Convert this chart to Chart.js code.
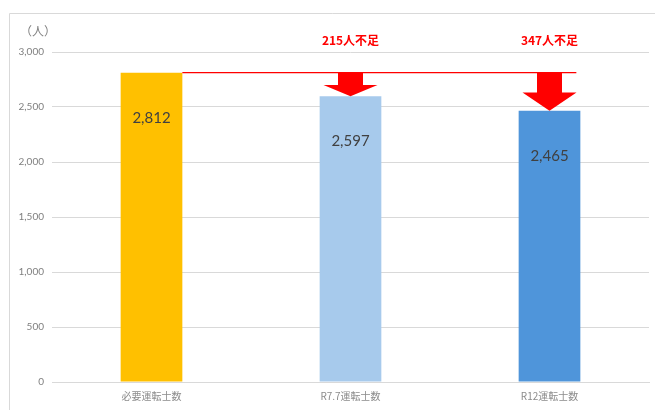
<!DOCTYPE html>
<html><head><meta charset="utf-8">
<script src="https://cdn.jsdelivr.net/npm/chart.js@4"></script>
<style>html,body{margin:0;padding:0;background:#fff;}#wrap{width:655px;height:410px;position:relative;}</style>
</head><body><div id="wrap"><canvas id="c" width="655" height="410"></canvas></div>
<script>
const categories = ['必要運転士数', 'R7.7運転士数', 'R12運転士数'];
const driverCounts = [2812, 2597, 2465];
const barColors = ['#FFC000', '#A7CAEC', '#4F95DA'];
const shortageLabels = ['215人不足', '347人不足'];
const yUnit = '（人）';
const jpFont = '"Noto Sans CJK JP", "Noto Sans", sans-serif';

const overlay = {
  id: 'overlay',
  beforeDraw(chart) {
    const ctx = chart.ctx;
    ctx.save();
    ctx.strokeStyle = '#D9D9D9';
    ctx.lineWidth = 1;
    ctx.beginPath();
    ctx.moveTo(9.5, 410); ctx.lineTo(9.5, 13.5); ctx.lineTo(655, 13.5);
    ctx.stroke();
    ctx.restore();
  },
  afterDatasetsDraw(chart) {
    const ctx = chart.ctx;
    const ys = chart.scales.y;
    const meta = chart.getDatasetMeta(0);
    ctx.save();
    // data labels
    ctx.fillStyle = '#404040';
    ctx.font = '15px Lato, "Noto Sans", sans-serif';
    ctx.textAlign = 'center';
    ctx.textBaseline = 'middle';
    meta.data.forEach((bar, i) => {
      ctx.fillText(driverCounts[i].toLocaleString('en-US'), bar.x, bar.y + 45);
    });
    // red reference line
    const lineY = ys.getPixelForValue(driverCounts[0]);
    const b0 = meta.data[0], bl = meta.data[meta.data.length - 1];
    ctx.strokeStyle = '#FF0000';
    ctx.lineWidth = 1.2;
    ctx.beginPath();
    ctx.moveTo(b0.x + b0.width / 2, lineY);
    ctx.lineTo(bl.x + bl.width / 2 - 4, lineY);
    ctx.stroke();
    // arrows and shortage labels
    for (let i = 1; i < meta.data.length; i++) {
      const bar = meta.data[i];
      const tip = bar.y;
      const total = tip - lineY;
      const head = total * 0.48;
      const sw = 12.5, hw = 27;
      ctx.fillStyle = '#FF0000';
      ctx.beginPath();
      ctx.moveTo(bar.x - sw, lineY);
      ctx.lineTo(bar.x + sw, lineY);
      ctx.lineTo(bar.x + sw, tip - head);
      ctx.lineTo(bar.x + hw, tip - head);
      ctx.lineTo(bar.x, tip);
      ctx.lineTo(bar.x - hw, tip - head);
      ctx.lineTo(bar.x - sw, tip - head);
      ctx.closePath();
      ctx.fill();
      ctx.font = 'bold 12px ' + jpFont;
      ctx.textAlign = 'center';
      ctx.textBaseline = 'middle';
      ctx.fillText(shortageLabels[i - 1], bar.x, 40);
    }
    // unit label
    ctx.fillStyle = '#7F7F7F';
    ctx.font = '12px ' + jpFont;
    ctx.textAlign = 'left';
    ctx.fillText(yUnit, 20, 31);
    ctx.restore();
  }
};

new Chart(document.getElementById('c'), {
  type: 'bar',
  data: {
    labels: categories,
    datasets: [{ data: driverCounts, backgroundColor: barColors, barPercentage: 0.62, categoryPercentage: 0.5 }]
  },
  options: {
    responsive: false,
    animation: false,
    events: [],
    layout: { padding: { top: 52, right: 6, left: 0, bottom: 0 } },
    plugins: { legend: { display: false }, tooltip: { enabled: false } },
    scales: {
      y: {
        min: 0, max: 3000,
        ticks: { stepSize: 500, color: '#7F7F7F', font: { size: 10, family: 'Lato, "Noto Sans", sans-serif' }, padding: 8,
          callback: v => v.toLocaleString('en-US') },
        grid: { color: '#D9D9D9', drawTicks: false, lineWidth: 1 },
        border: { display: false },
        afterFit: s => { s.width = 52; }
      },
      x: {
        ticks: { color: '#8C8C8C', font: { size: 10, family: jpFont }, padding: 8 },
        grid: { display: false, drawTicks: false },
        border: { display: true, color: '#D9D9D9' },
        afterFit: s => { s.height = 28; }
      }
    }
  },
  plugins: [overlay]
});
</script></body></html>
